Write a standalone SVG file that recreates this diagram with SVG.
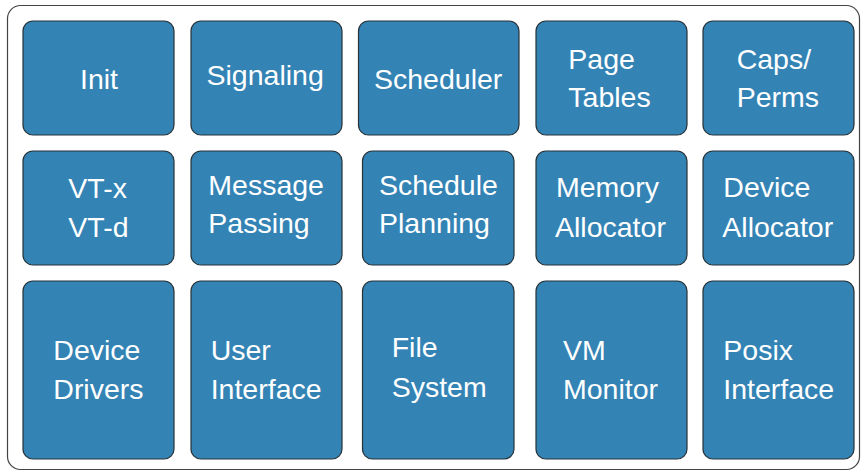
<svg xmlns="http://www.w3.org/2000/svg" width="866" height="472" viewBox="0 0 866 472">
<style>
.frame{fill:#fff;stroke:#444;stroke-width:1.2}
.box{fill:#3483b5;stroke:#263238;stroke-width:1.2}
.t{font-family:"Liberation Sans",Arial,sans-serif;font-size:28.5px;fill:#fff}
</style>
<rect class="frame" x="7.5" y="5.5" width="852" height="464" rx="13"/>
<g id="init"><rect class="box" x="23" y="21" width="151" height="114" rx="10"/><text class="t" x="80" y="88.5">Init</text></g>
<g id="signaling"><rect class="box" x="191" y="21" width="151" height="114" rx="10"/><text class="t" x="206.5" y="85">Signaling</text></g>
<g id="scheduler"><rect class="box" x="358.5" y="21" width="160.5" height="114" rx="10"/><text class="t" x="374" y="89">Scheduler</text></g>
<g id="pagetables"><rect class="box" x="536" y="21" width="151" height="114" rx="10"/><text class="t" x="568.3" y="68.5">Page</text><text class="t" x="568.3" y="106.5">Tables</text></g>
<g id="capsperms"><rect class="box" x="703" y="21" width="151" height="114" rx="10"/><text class="t" x="736.7" y="68.5">Caps/</text><text class="t" x="736.7" y="106.5">Perms</text></g>
<g id="vtx"><rect class="box" x="23" y="151" width="151" height="114" rx="10"/><text class="t" x="68.3" y="198.3">VT-x</text><text class="t" x="68.3" y="236.7">VT-d</text></g>
<g id="messagepassing"><rect class="box" x="191" y="151" width="151" height="114" rx="10"/><text class="t" x="208.3" y="195">Message</text><text class="t" x="208.3" y="233.3">Passing</text></g>
<g id="scheduleplanning"><rect class="box" x="362.5" y="151" width="151.5" height="114" rx="10"/><text class="t" x="379" y="195">Schedule</text><text class="t" x="379" y="233.3">Planning</text></g>
<g id="memoryallocator"><rect class="box" x="536" y="151" width="151" height="114" rx="10"/><text class="t" x="556" y="196.7">Memory</text><text class="t" x="555" y="236.7">Allocator</text></g>
<g id="deviceallocator"><rect class="box" x="703" y="151" width="151" height="114" rx="10"/><text class="t" x="723.3" y="196.7">Device</text><text class="t" x="722.3" y="236.7">Allocator</text></g>
<g id="devicedrivers"><rect class="box" x="23" y="281" width="151" height="178" rx="10"/><text class="t" x="53.3" y="360">Device</text><text class="t" x="53.3" y="399.3">Drivers</text></g>
<g id="userinterface"><rect class="box" x="191" y="281" width="151" height="178" rx="10"/><text class="t" x="210.7" y="360">User</text><text class="t" x="210.7" y="399.3">Interface</text></g>
<g id="filesystem"><rect class="box" x="362.5" y="281" width="151.5" height="178" rx="10"/><text class="t" x="391.7" y="357.3">File</text><text class="t" x="391.7" y="396.7">System</text></g>
<g id="vmmonitor"><rect class="box" x="536" y="281" width="151" height="178" rx="10"/><text class="t" x="563" y="360">VM</text><text class="t" x="563" y="399.3">Monitor</text></g>
<g id="posixinterface"><rect class="box" x="703" y="281" width="151" height="178" rx="10"/><text class="t" x="723.3" y="360">Posix</text><text class="t" x="723.3" y="399.3">Interface</text></g>
<g id="connectors"></g>
</svg>
